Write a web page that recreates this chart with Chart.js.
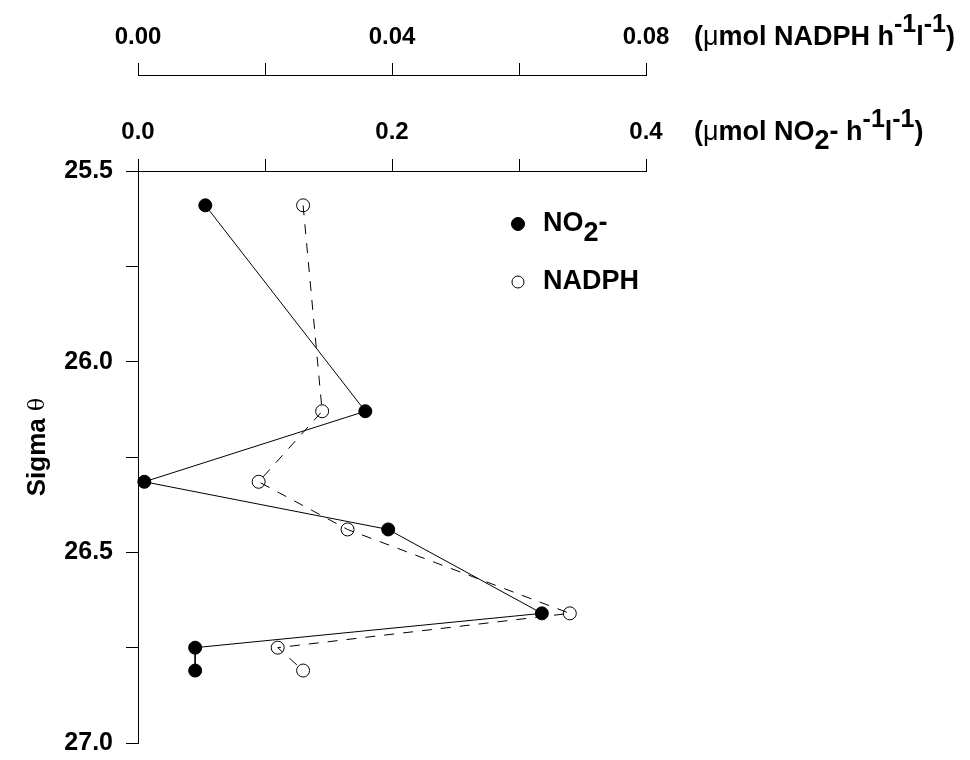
<!DOCTYPE html>
<html>
<head>
<meta charset="utf-8">
<script src="https://cdn.jsdelivr.net/npm/chart.js@4.4.0/dist/chart.umd.min.js"></script>
<style>
  html, body { margin: 0; padding: 0; background: #fff; }
  #wrap { width: 970px; height: 760px; }
</style>
</head>
<body>
<div id="wrap"><canvas id="chartCanvas" width="970" height="760"></canvas></div>
<script>
// ── Data ──
var sigmaTheta = [25.59, 26.13, 26.315, 26.44, 26.66, 26.75, 26.81];
var no2Rate    = [0.053, 0.179, 0.005, 0.197, 0.318, 0.045, 0.045];
var nadphRate  = [0.026, 0.029, 0.019, 0.033, 0.068, 0.022, 0.026];

// labelled ticks
var no2Labels   = [0.0, 0.2, 0.4];
var nadphLabels = [0.00, 0.04, 0.08];
var sigmaLabels = [25.5, 26.0, 26.5, 27.0];

var FONT = '"Liberation Sans", Arial, sans-serif';

function pairs(xs, ys) {
  return xs.map(function(x, i) { return { x: x, y: ys[i] }; });
}

function labelFor(value, list, digits) {
  for (var i = 0; i < list.length; i++) {
    if (Math.abs(value - list[i]) < 1e-6) return list[i].toFixed(digits);
  }
  return '';
}

// draw a run of [text, font, dy] pieces starting at x
function drawRun(ctx, x, y, parts) {
  ctx.save();
  ctx.fillStyle = '#000';
  ctx.textAlign = 'left';
  ctx.textBaseline = 'middle';
  parts.forEach(function(p) {
    ctx.font = p[1];
    ctx.fillText(p[0], x, y + (p[2] || 0));
    x += ctx.measureText(p[0]).width;
  });
  ctx.restore();
  return x;
}

var bold = 'bold 27px ' + FONT;
var sup = 'bold 25px ' + FONT;
var mu = '27px ' + FONT;

// ── Units labels, legend and y title ──
var decorPlugin = {
  id: 'decor',
  afterDraw: function(chart) {
    var ctx = chart.ctx;
    var area = chart.chartArea;

    // units beside the two top axes
    [['xNADPH', [['(', bold], ['\u03bc', mu], ['mol NADPH h', bold], ['-1', sup, -12], ['l', bold], ['-1', sup, -12], [')', bold]]],
     ['xNO2',   [['(', bold], ['\u03bc', mu], ['mol NO', bold], ['2', bold, 9], ['- h', bold], ['-1', sup, -12], ['l', bold], ['-1', sup, -12], [')', bold]]]
    ].forEach(function(item) {
      var s = chart.scales[item[0]];
      var o = s.options;
      var y = s.bottom - o.grid.tickLength - o.ticks.padding - o.ticks.font.size * 0.6;
      drawRun(ctx, s.right + 48, y, item[1]);
    });

    // legend
    var lx = area.left + (area.right - area.left) * 0.748;
    var ly = area.top + 53;
    chart.data.datasets.forEach(function(ds, i) {
      var yy = ly + i * 58;
      ctx.save();
      ctx.beginPath();
      ctx.arc(lx, yy, i === 0 ? 6.5 : 6, 0, Math.PI * 2);
      ctx.fillStyle = ds.pointBackgroundColor;
      ctx.fill();
      ctx.lineWidth = 1;
      ctx.strokeStyle = '#000';
      ctx.stroke();
      ctx.restore();
      var lf = 'bold 27px ' + FONT;
      if (i === 0) {
        drawRun(ctx, lx + 25, yy, [['NO', lf], ['2', lf, 10], ['-', lf]]);
      } else {
        drawRun(ctx, lx + 25, yy, [['NADPH', lf]]);
      }
    });

    // y axis title
    var tf = 'bold 26px ' + FONT;
    var th = '22px "DejaVu Serif", serif';
    ctx.save();
    ctx.translate(chart.scales.y.left + 38, (area.top + area.bottom) / 2 - 10);
    ctx.rotate(-Math.PI / 2);
    ctx.font = tf;
    var w1 = ctx.measureText('Sigma ').width;
    ctx.font = th;
    var w2 = ctx.measureText('\u03b8').width;
    drawRun(ctx, -(w1 + w2) / 2, 0, [['Sigma ', tf], ['\u03b8', th]]);
    ctx.restore();
  }
};

var axisGrid = { drawOnChartArea: false, drawTicks: true, tickLength: 12, color: '#000', lineWidth: 1 };
var axisBorder = { display: true, color: '#000', width: 1 };

function fitX(h) {
  return function(s) { s.height = h; s.paddingLeft = 0; s.paddingRight = 0; };
}

var chart = new Chart(document.getElementById('chartCanvas').getContext('2d'), {
  type: 'scatter',
  data: {
    datasets: [
      {
        label: 'NO2-',
        data: pairs(no2Rate, sigmaTheta),
        xAxisID: 'xNO2',
        yAxisID: 'y',
        showLine: true,
        borderColor: '#000',
        borderWidth: 1,
        pointRadius: 6.5,
        pointBackgroundColor: '#000',
        pointBorderColor: '#000',
        pointBorderWidth: 1,
        clip: false
      },
      {
        label: 'NADPH',
        data: pairs(nadphRate, sigmaTheta),
        xAxisID: 'xNADPH',
        yAxisID: 'y',
        showLine: true,
        borderColor: '#000',
        borderWidth: 1,
        borderDash: [10, 9],
        pointRadius: 6.5,
        pointBackgroundColor: 'rgba(0,0,0,0)',
        pointBorderColor: '#000',
        pointBorderWidth: 1,
        clip: false
      }
    ]
  },
  options: {
    responsive: false,
    animation: false,
    devicePixelRatio: 1,
    layout: { padding: { top: 0, left: 0, right: 324, bottom: 17 } },
    plugins: {
      legend: { display: false },
      tooltip: { enabled: false }
    },
    scales: {
      y: {
        type: 'linear',
        position: 'left',
        reverse: true,
        min: 25.5,
        max: 27.0,
        ticks: {
          stepSize: 0.25,
          autoSkip: false,
          color: '#000',
          padding: 13,
          font: { family: FONT, weight: 'bold', size: 25 },
          callback: function(v) { return labelFor(v, sigmaLabels, 1); }
        },
        grid: axisGrid,
        border: axisBorder,
        afterFit: function(s) { s.width = 138; s.paddingTop = 0; s.paddingBottom = 0; }
      },
      xNO2: {
        type: 'linear',
        position: 'top',
        weight: 0,
        min: 0,
        max: 0.4,
        ticks: {
          stepSize: 0.1,
          autoSkip: false,
          maxRotation: 0,
          color: '#000',
          padding: 12,
          font: { family: FONT, weight: 'bold', size: 24 },
          callback: function(v) { return labelFor(v, no2Labels, 1); }
        },
        grid: axisGrid,
        border: axisBorder,
        afterFit: fitX(96)
      },
      xNADPH: {
        type: 'linear',
        position: 'top',
        weight: 1,
        min: 0,
        max: 0.08,
        ticks: {
          stepSize: 0.02,
          autoSkip: false,
          maxRotation: 0,
          color: '#000',
          padding: 11,
          font: { family: FONT, weight: 'bold', size: 24 },
          callback: function(v) { return labelFor(v, nadphLabels, 2); }
        },
        grid: axisGrid,
        border: axisBorder,
        afterFit: fitX(75)
      }
    }
  },
  plugins: [decorPlugin]
});
</script>
</body>
</html>
